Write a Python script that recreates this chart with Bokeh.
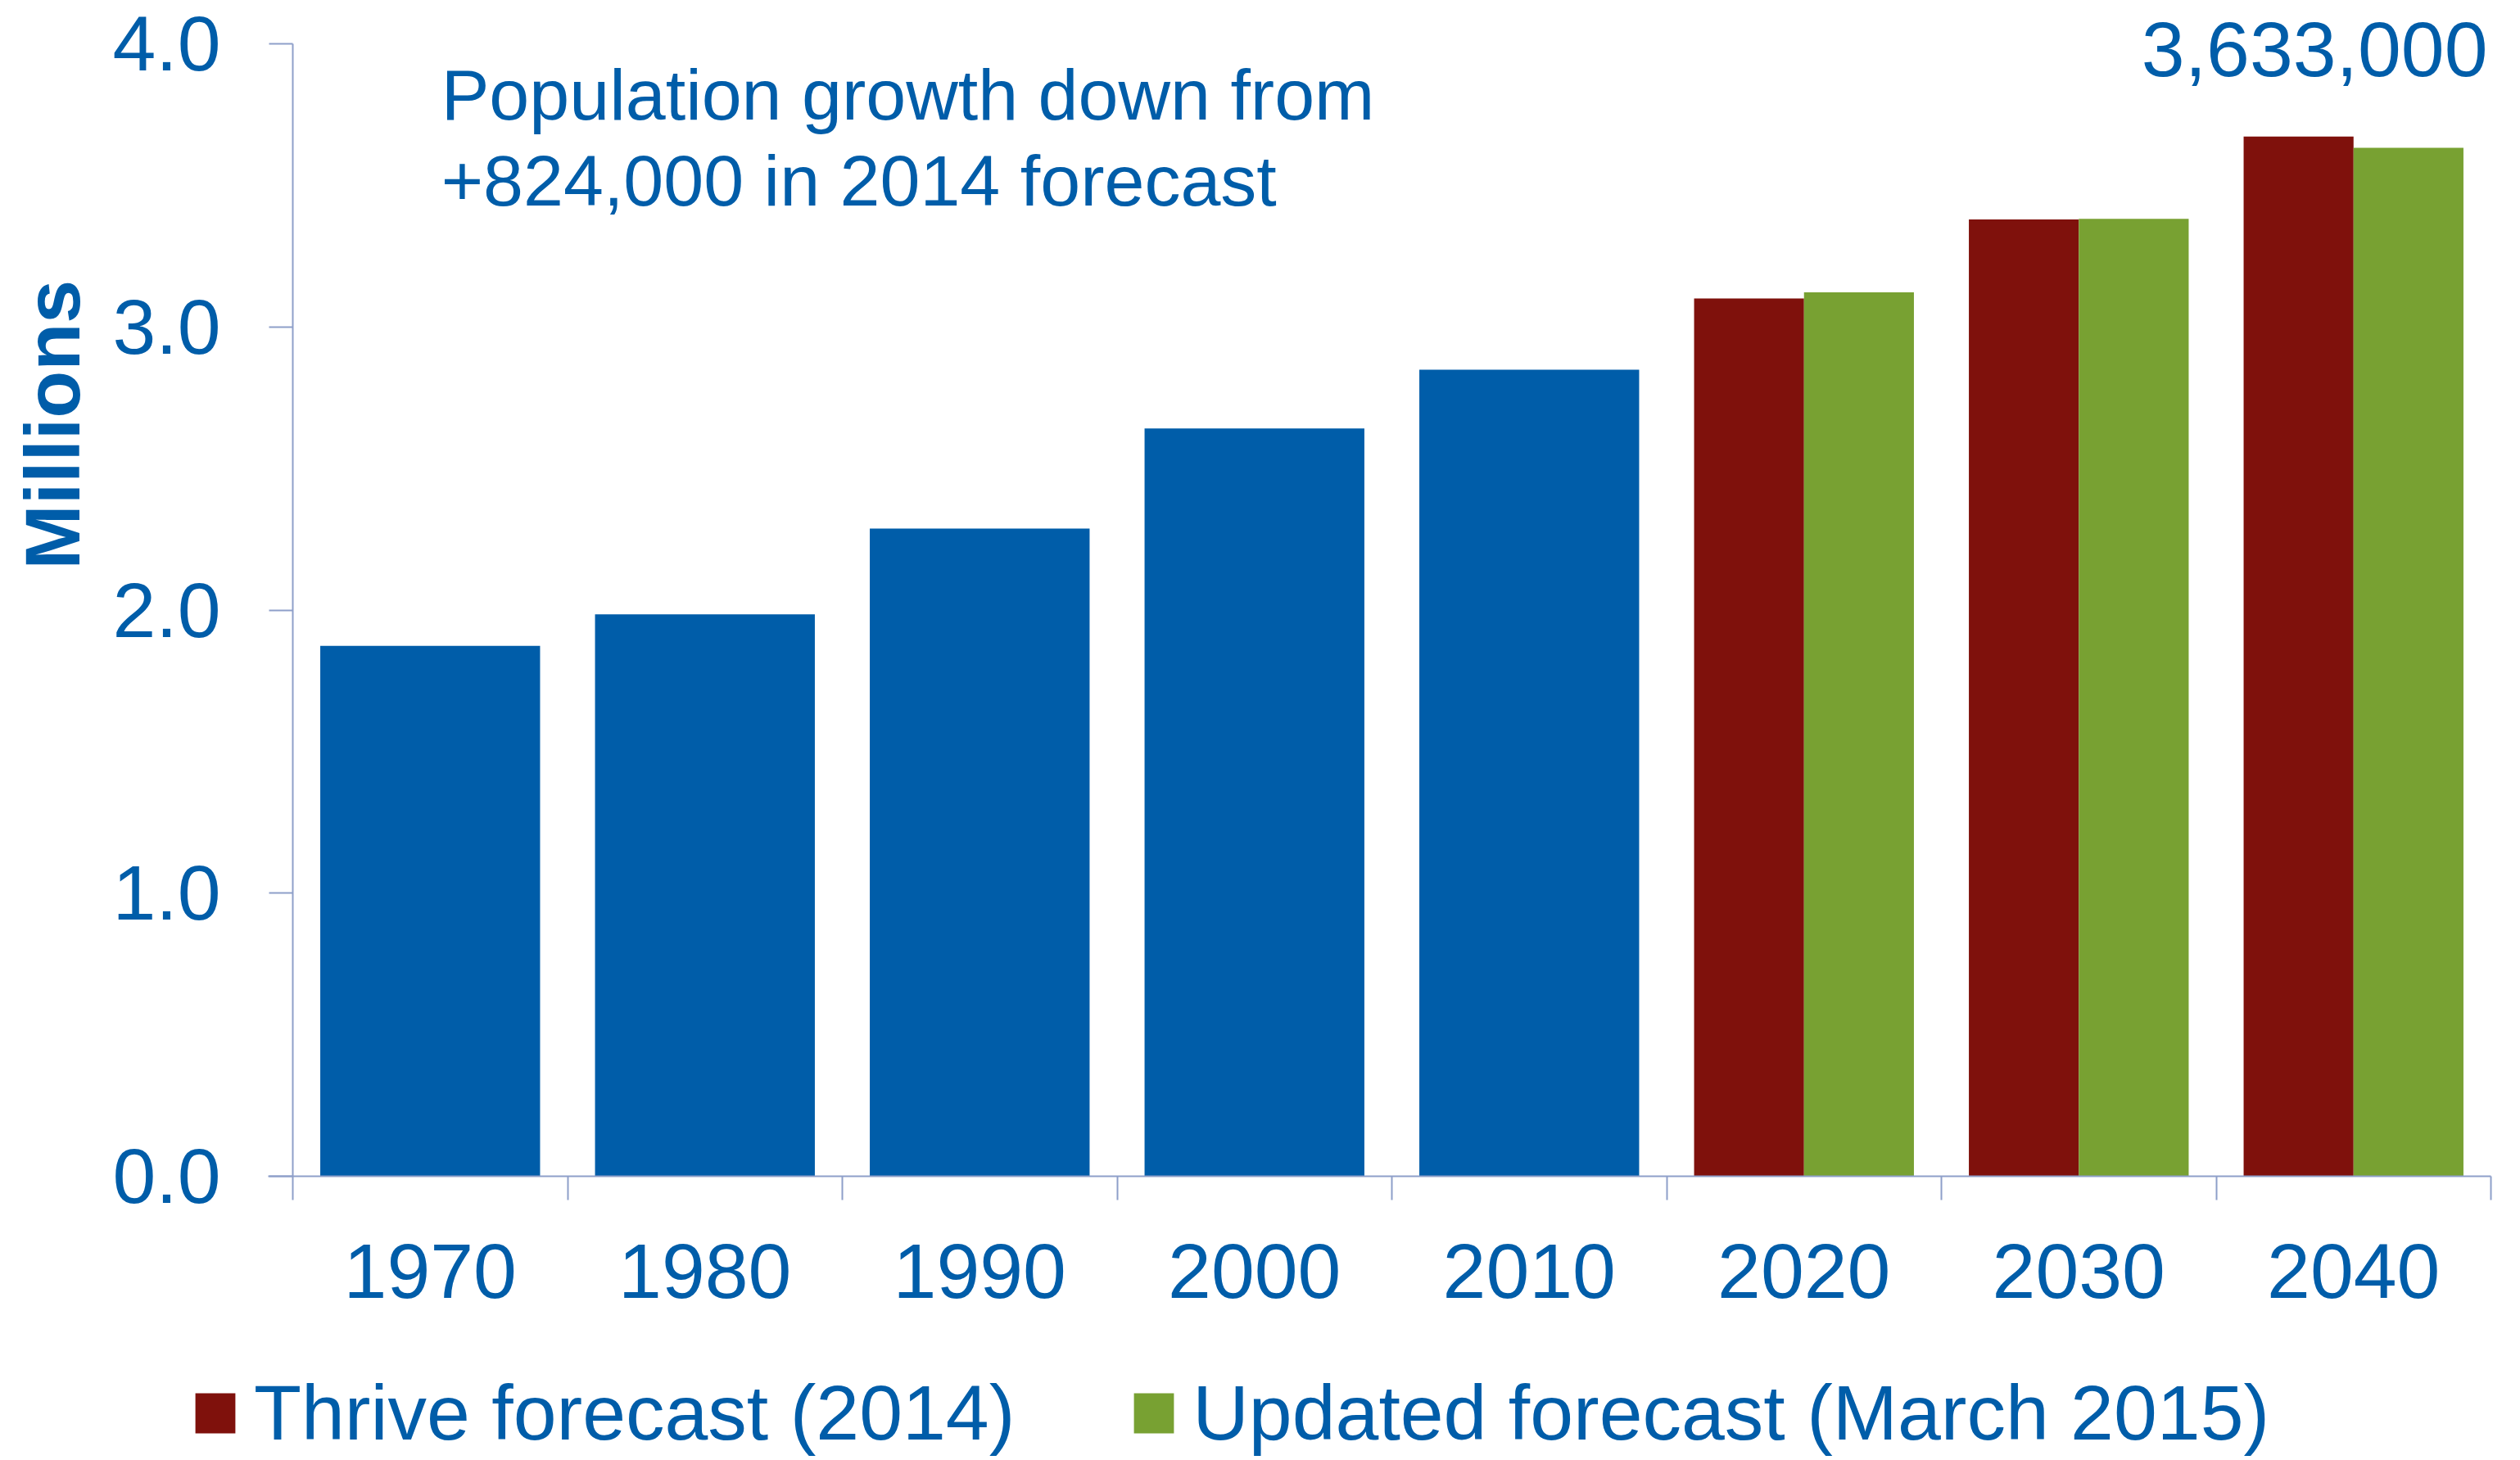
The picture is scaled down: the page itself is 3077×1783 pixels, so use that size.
import numpy as np
from bokeh.plotting import figure
from bokeh.models import (Range1d, FixedTicker, PrintfTickFormatter, Label,
                          Legend, LegendItem, ColumnDataSource)
from bokeh.embed import file_html
from bokeh.resources import INLINE

# ---------------- data ----------------
years = ["1970", "1980", "1990", "2000", "2010", "2020", "2030", "2040"]
census_years = ["1970", "1980", "1990", "2000", "2010"]
census_millions = [1.874, 1.985, 2.288, 2.642, 2.849]
forecast_years = ["2020", "2030", "2040"]
thrive_2014 = [3.101, 3.380, 3.673]
updated_2015 = [3.123, 3.382, 3.633]
y_ticks = [0, 1, 2, 3, 4]
note_lines = ["Population growth down from", "+824,000 in 2014 forecast"]
legend_labels = ["Thrive forecast (2014)", "Updated forecast (March 2015)"]

BLUE = "#005DA9"
RED = "#7F110C"
GREEN = "#78A132"
AXIS = "#8E9FC9"
FONT = "Liberation Sans"

# ---------------- layout ----------------
W, H = 3076, 1782
LEFT, BASE = 357, 1436          # pixel position of x=0 and y=0
PX_X, PX_Y = 335.5, 345.7       # pixels per unit

pos = {y: i + 0.5 for i, y in enumerate(years)}

p = figure(width=W, height=H, output_backend="svg", toolbar_location=None,
           x_range=Range1d(-LEFT / PX_X, (W - LEFT) / PX_X),
           y_range=Range1d(-(H - BASE) / PX_Y, BASE / PX_Y),
           min_border_left=0, min_border_right=0, min_border_top=0,
           min_border_bottom=0)
p.outline_line_color = None
p.xgrid.grid_line_color = None
p.ygrid.grid_line_color = None
p.background_fill_color = "white"
p.border_fill_color = "white"

hist = ColumnDataSource(dict(x=[pos[y] for y in census_years], top=census_millions))
fc_x = np.array([pos[y] for y in forecast_years])
red_src = ColumnDataSource(dict(x=fc_x - 0.2, top=thrive_2014))
green_src = ColumnDataSource(dict(x=fc_x + 0.2, top=updated_2015))

p.vbar(x="x", top="top", width=0.8, source=hist, fill_color=BLUE, line_color=None)
r_red = p.vbar(x="x", top="top", width=0.4, source=red_src, fill_color=RED, line_color=None)
r_green = p.vbar(x="x", top="top", width=0.4, source=green_src, fill_color=GREEN, line_color=None)

# x axis: labels at category centres, ticks at category boundaries
xa = p.xaxis[0]
xa.fixed_location = 0
xa.bounds = (-30 / PX_X, len(years))
xa.ticker = FixedTicker(ticks=[pos[y] for y in years],
                        minor_ticks=list(range(len(years) + 1)))
xa.major_label_overrides = {pos[y]: y for y in years}
xa.major_tick_out = 0
xa.major_tick_in = 0
xa.minor_tick_out = 29
xa.minor_tick_in = 0
xa.minor_tick_line_color = AXIS
xa.minor_tick_line_width = 2
xa.axis_line_color = AXIS
xa.axis_line_width = 2
xa.major_label_text_font = FONT
xa.major_label_text_font_size = "95px"
xa.major_label_text_color = BLUE
xa.major_label_standoff = 54

ya = p.yaxis[0]
ya.fixed_location = 0
ya.ticker = FixedTicker(ticks=y_ticks, minor_ticks=[])
ya.formatter = PrintfTickFormatter(format="%.1f")
ya.bounds = (0, 4)
ya.major_tick_out = 29
ya.major_tick_in = 0
ya.minor_tick_out = 0
ya.minor_tick_in = 0
ya.major_tick_line_color = AXIS
ya.major_tick_line_width = 2
ya.axis_line_color = AXIS
ya.axis_line_width = 2
ya.major_label_text_font = FONT
ya.major_label_text_font_size = "95px"
ya.major_label_text_color = BLUE
ya.major_label_standoff = 59

# y axis title
p.add_layout(Label(x=63, y=2.655, x_units="screen", y_units="data", text="Millions",
                   angle=np.pi / 2, text_align="center", text_baseline="alphabetic",
                   text_font=FONT, text_font_size="95px", text_font_style="bold",
                   text_color=BLUE))

# note
for i, line in enumerate(note_lines):
    p.add_layout(Label(x=0.540, y=3.822 - i * 0.304, text=line, text_align="left",
                       text_baseline="alphabetic", text_font=FONT,
                       text_font_size="88px", text_color=BLUE))

# final value label
p.add_layout(Label(x=len(years), y=3.980, x_offset=-4,
                   text=f"{int(round(updated_2015[-1] * 1e6)):,}",
                   text_align="right", text_baseline="alphabetic", text_font=FONT,
                   text_font_size="95px", text_color=BLUE))

legend = Legend(items=[LegendItem(label=legend_labels[0], renderers=[r_red]),
                       LegendItem(label=legend_labels[1], renderers=[r_green])],
                orientation="horizontal", location=(232, 2),
                glyph_width=61, glyph_height=61, label_standoff=17, spacing=139,
                padding=0, margin=0, border_line_color=None,
                background_fill_alpha=0, label_text_font=FONT,
                label_text_font_size="95px", label_text_color=BLUE)
p.add_layout(legend)

open("out.html", "w").write(file_html(p, INLINE))
